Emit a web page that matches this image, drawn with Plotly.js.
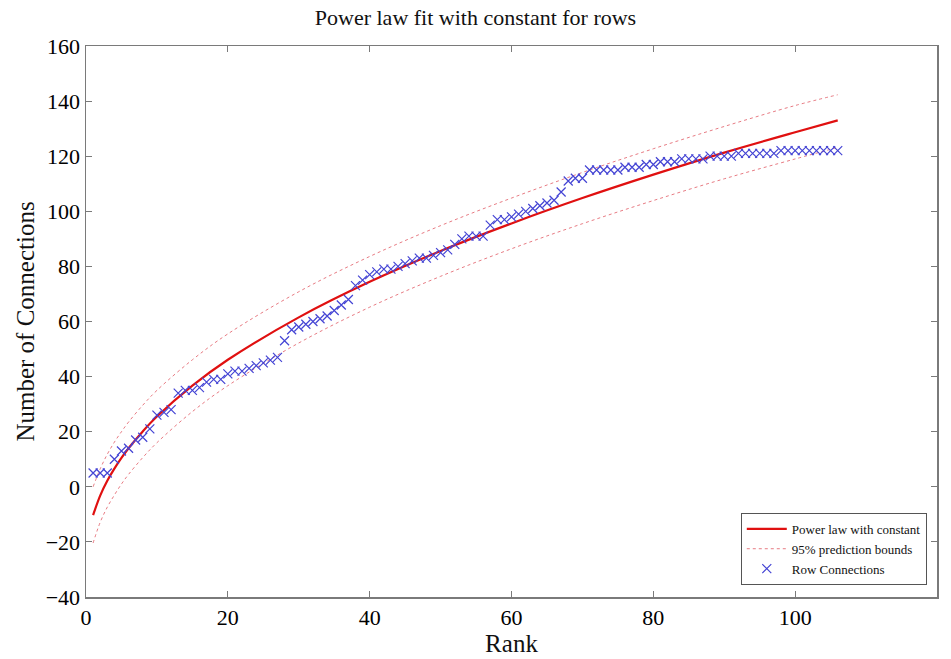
<!DOCTYPE html>
<html>
<head>
<meta charset="utf-8">
<script src="https://cdn.plot.ly/plotly-3.0.1.min.js"></script>
<style>html,body{margin:0;padding:0;background:#fff;}#chart{width:951px;height:659px;}</style>
</head>
<body>
<div id="chart"></div>
<script>
// Row connection data (rank -> number of connections)
const rank = [];
for (let i = 1; i <= 106; i++) rank.push(i);
const connections = [
  5, 5, 5, 10, 13, 14, 17, 18, 21, 26,
  27, 28, 34, 35, 35, 36, 38, 39, 39, 41,
  42, 42, 43, 44, 45, 46, 47, 53, 57, 58,
  59, 60, 61, 62, 64, 66, 68, 73, 75, 77,
  78, 79, 79, 80, 81, 82, 83, 83, 84, 85,
  86, 88, 90, 91, 91, 91, 95, 97, 97, 98,
  99, 100, 101, 102, 103, 104, 107, 111, 112, 112,
  115, 115, 115, 115, 115, 116, 116, 116, 117, 117,
  118, 118, 118, 119, 119, 119, 119, 120, 120, 120,
  120, 121, 121, 121, 121, 121, 121, 122, 122, 122,
  122, 122, 122, 122, 122, 122
];

// Fitted curve and bounds at sample ranks
const fitX   = [1, 2, 3, 4, 5, 6, 8, 10, 15, 20, 30, 40, 50, 60, 70, 80, 90, 100, 106];
const fitY   = [-10.3, -3.2, 2.2, 6.6, 10.5, 14.0, 20.1, 25.5, 36.7, 46.1, 61.5, 74.4, 85.6, 95.6, 104.8, 113.3, 121.3, 128.7, 133.0];
const upperY = [0, 6.5, 11.8, 16.2, 20, 23.5, 29.6, 35, 46.1, 55.5, 70.8, 83.6, 94.8, 104.8, 114.1, 122.7, 130.8, 138.4, 142.3];
const lowerY = [-20.4, -12.9, -7.4, -3, 1, 4.5, 10.6, 16, 27.3, 36.7, 52.2, 65.2, 76.4, 86.4, 95.5, 103.9, 111.8, 119, 123.2];

const serif = 'Liberation Serif, Times New Roman, serif';

const traces = [
  {
    x: fitX, y: fitY, type: 'scatter', mode: 'lines',
    name: 'Power law with constant',
    line: {color: '#e01010', width: 2.2, shape: 'spline'}
  },
  {
    x: fitX, y: upperY, type: 'scatter', mode: 'lines',
    name: '95% prediction bounds', legendgroup: 'pb',
    line: {color: 'rgba(225,90,100,0.8)', width: 1, dash: 'dot', shape: 'spline'}
  },
  {
    x: fitX, y: lowerY, type: 'scatter', mode: 'lines',
    name: '95% prediction bounds', legendgroup: 'pb', showlegend: false,
    line: {color: 'rgba(225,90,100,0.8)', width: 1, dash: 'dot', shape: 'spline'}
  },
  {
    x: rank, y: connections, type: 'scatter', mode: 'markers',
    name: 'Row Connections',
    marker: {symbol: 'x-thin-open', size: 9, color: '#4444d4', line: {color: '#4444d4', width: 1.2}}
  }
];

const axisCommon = {
  showline: true, linecolor: '#7a7a7a', linewidth: 1.5, mirror: 'ticks',
  ticks: 'inside', ticklen: 6, tickcolor: '#7a7a7a', tickwidth: 1,
  showgrid: false, zeroline: false,
  tickfont: {family: serif, size: 22, color: '#000'}
};

const layout = {
  width: 951, height: 659,
  paper_bgcolor: '#fff', plot_bgcolor: '#fff',
  margin: {l: 86, r: 14, t: 46, b: 62},
  title: {text: 'Power law fit with constant for rows', font: {family: serif, size: 22, color: '#111'}, x: 0.5, xanchor: 'center', y: 0.985, yanchor: 'top'},
  xaxis: Object.assign({}, axisCommon, {
    range: [0, 120], dtick: 20, tick0: 0,
    title: {text: 'Rank', font: {family: serif, size: 25, color: '#111'}, standoff: 4}
  }),
  yaxis: Object.assign({}, axisCommon, {
    range: [-40, 160], dtick: 20, tick0: -40,
    title: {text: 'Number of Connections', font: {family: serif, size: 25, color: '#111'}, standoff: 4}
  }),
  showlegend: true,
  legend: {
    x: 0.988, y: 0.022, xanchor: 'right', yanchor: 'bottom',
    bgcolor: '#fff', bordercolor: '#555', borderwidth: 1,
    font: {family: serif, size: 13, color: '#111'},
    tracegroupgap: 0, itemwidth: 40
  }
};

Plotly.newPlot('chart', traces, layout, {displayModeBar: false, staticPlot: true});
</script>
</body>
</html>
